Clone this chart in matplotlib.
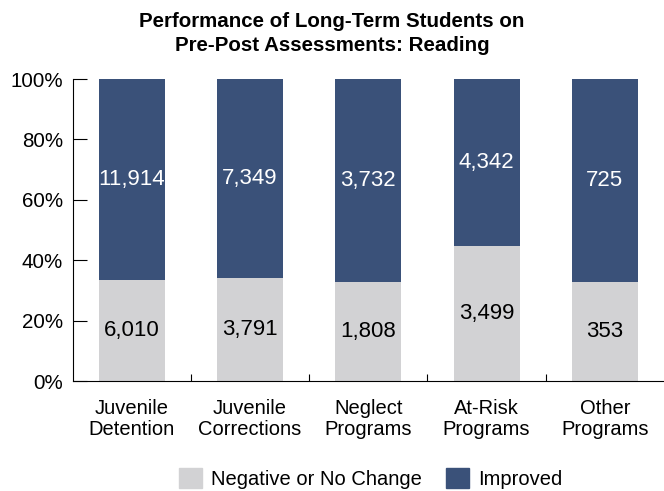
import numpy as np
import matplotlib
matplotlib.use("Agg")
import matplotlib.pyplot as plt
from matplotlib.patches import Patch

programs = ["Juvenile\nDetention", "Juvenile\nCorrections", "Neglect\nPrograms",
            "At-Risk\nPrograms", "Other\nPrograms"]
no_change = [6010, 3791, 1808, 3499, 353]
improved = [11914, 7349, 3732, 4342, 725]

gray = "#d2d2d4"
blue = "#3a5179"

plt.rcParams["font.family"] = ["Liberation Sans", "DejaVu Sans"]

no_change = np.array(no_change, dtype=float)
improved = np.array(improved, dtype=float)
total = no_change + improved
pct_no = no_change / total * 100
pct_imp = improved / total * 100

fig = plt.figure(figsize=(6.64, 4.91), dpi=100)
ax = fig.add_axes([0.1095, 0.224, 0.8905, 0.615])

x = np.arange(len(programs))
w = 0.56
ax.bar(x, pct_no, width=w, color=gray, zorder=2)
ax.bar(x, pct_imp, width=w, bottom=pct_no, color=blue, zorder=2)

# value labels centred in each segment
for i in range(len(x)):
    ax.text(x[i], pct_no[i] / 2, f"{int(no_change[i]):,}", ha="center", va="center",
            fontsize=16, color="black")
    ax.text(x[i], pct_no[i] + pct_imp[i] / 2, f"{int(improved[i]):,}", ha="center",
            va="center", fontsize=16, color="white")

ax.set_xlim(-0.5, 4.5)
ax.set_ylim(0, 100)
ax.set_yticks(np.arange(0, 101, 20))
ax.set_yticklabels([f"{v}%" for v in range(0, 101, 20)])
ax.set_xticks(x)
ax.set_xticklabels(programs, linespacing=1.1)
ax.set_xticks(np.arange(0.5, 4.5, 1), minor=True)

ax.tick_params(axis="y", direction="in", length=10, width=0.8, labelsize=14.8, pad=7,
               colors="black")
ax.tick_params(axis="x", which="major", length=0, labelsize=14.5, pad=13)
ax.tick_params(axis="x", which="minor", direction="in", length=5, width=0.8)

for s in ["top", "right"]:
    ax.spines[s].set_visible(False)
ax.spines["left"].set_linewidth(0.8)
ax.spines["bottom"].set_linewidth(0.8)

fig.text(0.5, 0.932, "Performance of Long-Term Students on\nPre-Post Assessments: Reading",
         ha="center", va="center", fontsize=14.8, fontweight="bold", linespacing=1.35)

handles = [Patch(color=gray, label="Negative or No Change"),
           Patch(color=blue, label="Improved")]
fig.legend(handles=handles, loc="center", bbox_to_anchor=(0.558, 0.026), ncol=2,
           frameon=False, fontsize=14.5, handlelength=1.15, handleheight=1.15,
           columnspacing=1.2, handletextpad=0.45)

fig.savefig("out.png", dpi=100)
